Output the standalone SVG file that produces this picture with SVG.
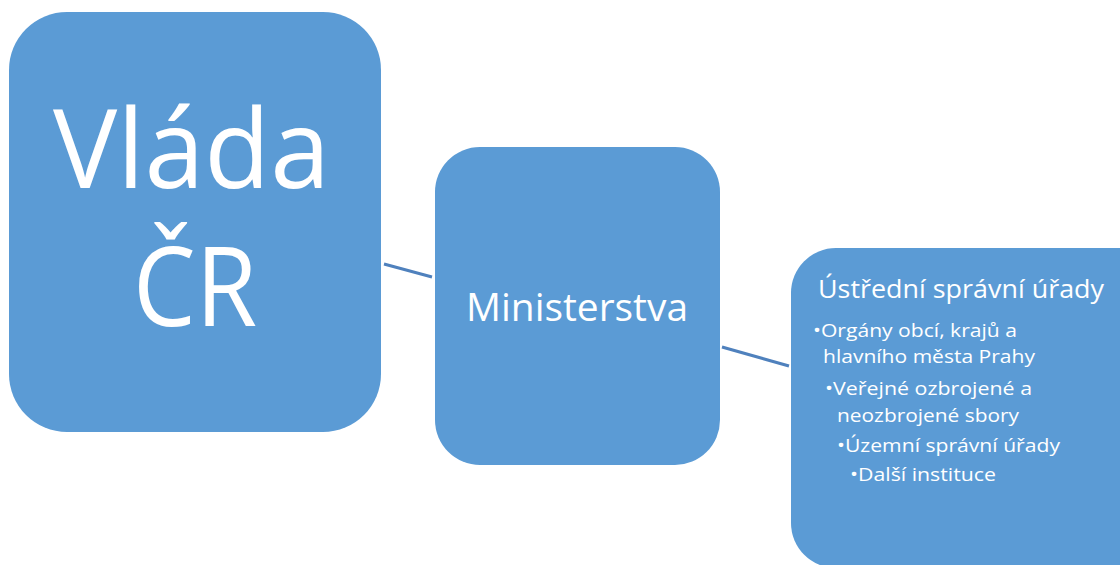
<svg xmlns="http://www.w3.org/2000/svg" width="1120" height="565" viewBox="0 0 1120 565">
<style>
.box{fill:#5B9BD5;}
.t{fill:#FFFFFF;font-family:"Open Sans","Noto Sans",sans-serif;}
.conn{stroke:#4F81BD;stroke-width:3;fill:none;}
</style>
<rect width="1120" height="565" fill="#FFFFFF"/>
<g id="connectors">
<line class="conn" x1="384" y1="264" x2="432" y2="277"/>
<line class="conn" x1="722" y1="347" x2="789" y2="366"/>
</g>
<g id="vlada">
<rect class="box" x="9" y="12" width="372" height="420" rx="58" ry="58"/>
<text class="t" x="53" y="188" font-size="110" textLength="277" lengthAdjust="spacingAndGlyphs">Vláda</text>
<text class="t" x="133" y="326" font-size="110" textLength="124" lengthAdjust="spacingAndGlyphs">ČR</text>
</g>
<g id="ministerstva">
<rect class="box" x="435" y="147" width="285" height="318" rx="45" ry="45"/>
<text class="t" x="466" y="321" font-size="38" textLength="222" lengthAdjust="spacingAndGlyphs">Ministerstva</text>
</g>
<g id="ustredni">
<rect class="box" x="791" y="248" width="380" height="320" rx="45" ry="45"/>
<text class="t" x="818" y="298" font-size="25" textLength="286" lengthAdjust="spacingAndGlyphs">Ústřední správní úřady</text>
<text class="t" x="813" y="337" font-size="19" textLength="204" lengthAdjust="spacingAndGlyphs">•Orgány obcí, krajů a</text>
<text class="t" x="823" y="363" font-size="19" textLength="212" lengthAdjust="spacingAndGlyphs">hlavního města Prahy</text>
<text class="t" x="825" y="395" font-size="19" textLength="207" lengthAdjust="spacingAndGlyphs">•Veřejné ozbrojené a</text>
<text class="t" x="837" y="422" font-size="19" textLength="182" lengthAdjust="spacingAndGlyphs">neozbrojené sbory</text>
<text class="t" x="837" y="452" font-size="19" textLength="223" lengthAdjust="spacingAndGlyphs">•Územní správní úřady</text>
<text class="t" x="850" y="481" font-size="19" textLength="146" lengthAdjust="spacingAndGlyphs">•Další instituce</text>
</g>
</svg>
